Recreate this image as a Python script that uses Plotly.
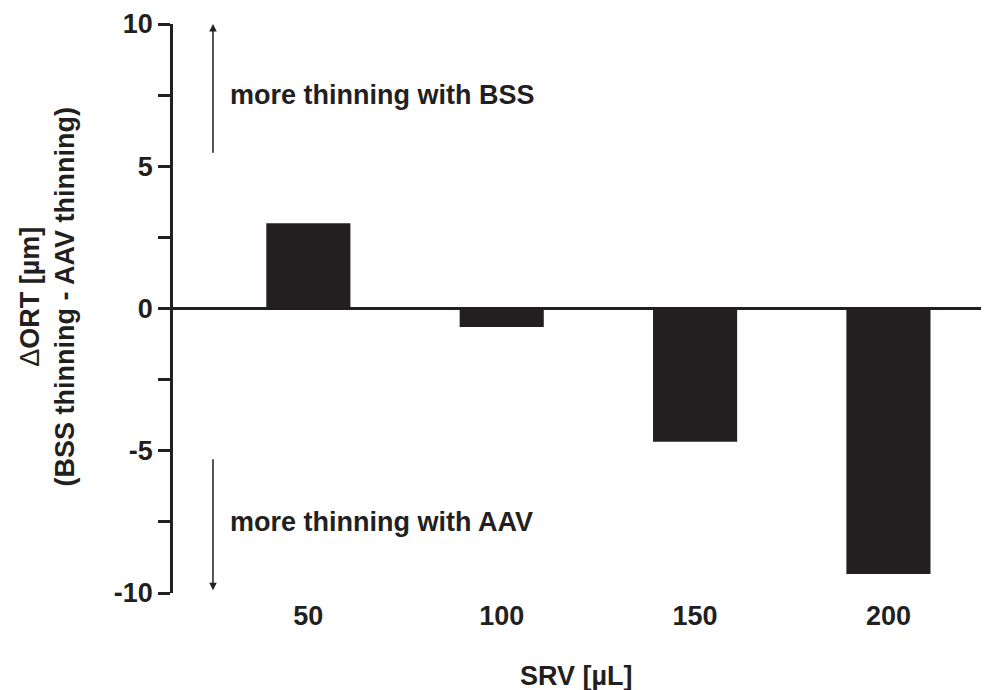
import plotly.graph_objects as go

categories = ["50", "100", "150", "200"]
delta_ort = [3.0, -0.65, -4.68, -9.33]
y_tickvals = [-10, -7.5, -5, -2.5, 0, 2.5, 5, 7.5, 10]
y_ticktext = ["-10", "", "-5", "", "0", "", "5", "", "10"]

INK = "#231f20"
FONT = "Liberation Sans, Arial, Helvetica, sans-serif"
FS = 27

fig = go.Figure()
fig.add_trace(go.Bar(
    x=categories, y=delta_ort, width=0.435,
    marker=dict(color=INK, line=dict(width=0)),
))

fig.update_layout(
    width=981, height=682,
    margin=dict(l=165, r=0, t=16, b=97),
    paper_bgcolor="white", plot_bgcolor="white",
    showlegend=False,
    font=dict(family=FONT, size=FS, color=INK, weight="bold"),
    xaxis=dict(
        type="category", range=[-0.70, 3.52],
        showline=False, showgrid=False, ticks="", zeroline=False,
        tickfont=dict(family=FONT, size=FS, color=INK, weight="bold"),
        ticklabelstandoff=4,
    ),
    yaxis=dict(
        range=[-10, 10], tickvals=y_tickvals, ticktext=y_ticktext,
        showline=True, linewidth=2.5, linecolor=INK,
        ticks="outside", ticklen=12, tickwidth=2.5, tickcolor=INK,
        showgrid=False,
        zeroline=True, zerolinewidth=2.5, zerolinecolor=INK,
        tickfont=dict(family=FONT, size=FS, color=INK, weight="bold"),
    ),
)

# direction arrows
fig.add_annotation(xref="x domain", yref="y", x=0.049, y=10.0, ax=0.049, ay=5.42,
                   axref="x domain", ayref="y", showarrow=True, arrowhead=2,
                   arrowsize=1, arrowwidth=1.5, arrowcolor=INK, text="")
fig.add_annotation(xref="x domain", yref="y", x=0.049, y=-9.9, ax=0.049, ay=-5.25,
                   axref="x domain", ayref="y", showarrow=True, arrowhead=2,
                   arrowsize=1, arrowwidth=1.5, arrowcolor=INK, text="")
fig.add_annotation(xref="paper", yref="y", x=0.068, y=7.5, xanchor="left",
                   yanchor="middle", showarrow=False, text="more thinning with BSS",
                   font=dict(family=FONT, size=FS, color=INK, weight="bold"))
fig.add_annotation(xref="paper", yref="y", x=0.068, y=-7.5, xanchor="left",
                   yanchor="middle", showarrow=False, text="more thinning with AAV",
                   font=dict(family=FONT, size=FS, color=INK, weight="bold"))

# axis titles
fig.add_annotation(xref="paper", yref="paper", x=0.495, y=-0.145, xanchor="center",
                   yanchor="middle", showarrow=False, text="SRV [µL]",
                   font=dict(family=FONT, size=FS, color=INK, weight="bold"))
fig.add_annotation(xref="paper", yref="paper", x=-0.154, y=0.52, xanchor="center",
                   yanchor="middle", showarrow=False, textangle=-90,
                   text="<span style='font-weight:normal'>Δ</span>ORT [µm]<br>(BSS thinning - AAV thinning)",
                   font=dict(family=FONT, size=FS, color=INK, weight="bold"))

fig.write_html("out.html")
